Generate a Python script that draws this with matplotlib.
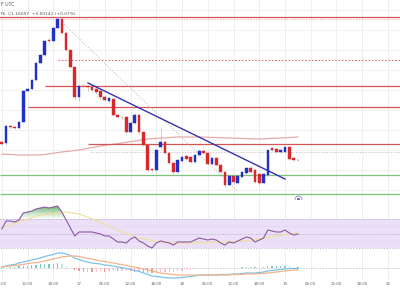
import numpy as np
import matplotlib
matplotlib.use("Agg")
import matplotlib.pyplot as plt
from matplotlib.path import Path
from matplotlib.colors import LinearSegmentedColormap

# hourly candles, hours counted from the 16th 00:00 UTC
hours = np.arange(6, 76)
opens = [1.16190, 1.16185, 1.16270, 1.16265, 1.16260, 1.16290, 1.16445, 1.16455, 1.16500, 1.16585,
         1.16625, 1.16700, 1.16695, 1.16760, 1.16805, 1.16735, 1.16650, 1.16565, 1.16415, 1.16470,
         1.16470, 1.16463, 1.16455, 1.16445, 1.16415, 1.16395, 1.16405, 1.16325, 1.16315, 1.16315,
         1.16240, 1.16285, 1.16325, 1.16240, 1.16175, 1.16055, 1.16050, 1.16165, 1.16190, 1.16135,
         1.16085, 1.16040, 1.16095, 1.16120, 1.16115, 1.16090, 1.16125, 1.16145, 1.16135, 1.16080,
         1.16110, 1.16075, 1.16040, 1.15975, 1.16020, 1.15985, 1.16015, 1.16035, 1.16060, 1.16050,
         1.16030, 1.15985, 1.16025, 1.16160, 1.16155, 1.16140, 1.16140, 1.16165, 1.16110, 1.16100]
highs = [1.16195, 1.16280, 1.16275, 1.16270, 1.16295, 1.16450, 1.16465, 1.16505, 1.16590, 1.16630,
         1.16700, 1.16710, 1.16770, 1.16815, 1.16810, 1.16745, 1.16655, 1.16570, 1.16480, 1.16480,
         1.16475, 1.16470, 1.16460, 1.16450, 1.16425, 1.16420, 1.16410, 1.16330, 1.16320, 1.16320,
         1.16295, 1.16335, 1.16330, 1.16245, 1.16180, 1.16060, 1.16160, 1.16265, 1.16195, 1.16140,
         1.16090, 1.16105, 1.16125, 1.16125, 1.16120, 1.16130, 1.16155, 1.16150, 1.16140, 1.16115,
         1.16115, 1.16080, 1.16045, 1.16025, 1.16025, 1.16025, 1.16045, 1.16065, 1.16070, 1.16055,
         1.16035, 1.16040, 1.16155, 1.16165, 1.16160, 1.16155, 1.16170, 1.16170, 1.16115, 1.16105]
lows = [1.16175, 1.16175, 1.16255, 1.16255, 1.16255, 1.16285, 1.16440, 1.16450, 1.16495, 1.16580,
        1.16620, 1.16685, 1.16690, 1.16755, 1.16730, 1.16645, 1.16560, 1.16400, 1.16395, 1.16460,
        1.16445, 1.16440, 1.16430, 1.16405, 1.16395, 1.16385, 1.16320, 1.16310, 1.16305, 1.16230,
        1.16235, 1.16280, 1.16230, 1.16170, 1.16040, 1.16040, 1.16040, 1.16155, 1.16130, 1.16080,
        1.16030, 1.16035, 1.16090, 1.16100, 1.16085, 1.16085, 1.16120, 1.16130, 1.16075, 1.16075,
        1.16070, 1.16035, 1.15965, 1.15970, 1.15980, 1.15980, 1.16010, 1.16030, 1.16035, 1.15985,
        1.15975, 1.15980, 1.16020, 1.16145, 1.16135, 1.16135, 1.16135, 1.16100, 1.16095, 1.16095]
closes = [1.16180, 1.16270, 1.16263, 1.16260, 1.16290, 1.16445, 1.16455, 1.16500, 1.16585, 1.16625,
          1.16695, 1.16695, 1.16760, 1.16805, 1.16735, 1.16650, 1.16565, 1.16415, 1.16470, 1.16468,
          1.16463, 1.16450, 1.16440, 1.16415, 1.16400, 1.16410, 1.16325, 1.16315, 1.16313, 1.16240,
          1.16285, 1.16325, 1.16240, 1.16175, 1.16050, 1.16048, 1.16150, 1.16190, 1.16135, 1.16085,
          1.16040, 1.16100, 1.16115, 1.16105, 1.16090, 1.16125, 1.16145, 1.16135, 1.16080, 1.16110,
          1.16075, 1.16040, 1.15975, 1.16020, 1.15990, 1.16020, 1.16040, 1.16060, 1.16040, 1.15990,
          1.15985, 1.16030, 1.16150, 1.16150, 1.16140, 1.16150, 1.16165, 1.16105, 1.16100, 1.16098]

# moving average (pale red curve)
ma_hours = [6, 10, 15, 20, 24, 29, 34, 40, 47, 52, 59, 66, 71, 75]
ma_values = [1.16130, 1.16125, 1.16125, 1.16140, 1.16150, 1.16170, 1.16185, 1.16205, 1.16215,
             1.16215, 1.16210, 1.16205, 1.16210, 1.16215]

# drawn levels: price, start hour
red_levels = [1.16815, 1.16470, 1.16365, 1.16180]
red_starts = [5.0, 16.1, 12.1, 26.1]
green_levels = [1.16025, 1.15930]
trend_hours = [26.1, 72.0]
trend_prices = [1.16485, 1.16005]
guide_hours = [20.0, 61.1]
guide_prices = [1.16790, 1.15940]

rsi = [56.2, 67.2, 67.2, 65.9, 68.6, 78.3, 79.6, 81.0, 83.8, 85.2,
       86.5, 85.2, 86.5, 87.9, 79.6, 68.6, 57.6, 46.6, 52.1, 52.1,
       52.1, 52.1, 50.7, 49.3, 46.6, 46.6, 42.4, 38.3, 38.3, 36.9,
       42.4, 45.2, 39.7, 36.9, 32.8, 30.0, 36.9, 39.7, 38.3, 36.9,
       34.1, 38.3, 38.3, 38.3, 38.3, 41.0, 43.8, 42.4, 41.0, 42.4,
       41.0, 36.9, 34.1, 38.3, 36.9, 39.7, 42.4, 45.2, 43.8, 38.3,
       41.0, 43.8, 54.8, 53.4, 52.1, 52.1, 54.8, 50.7, 47.9, 49.3]
rsi_ma_hours = [6, 10, 15, 21, 24, 29, 34, 38, 43, 47, 52, 57, 62, 66, 71, 75]
rsi_ma = [57.6, 65.9, 75.5, 79.6, 76.9, 65.9, 52.1, 43.8, 38.3, 36.9, 36.9, 38.3, 39.7, 42.4, 47.9, 50.7]

# MACD and signal, in units of 1e-5
macd = [2, 4, 6, 7, 10, 12, 14, 16, 18, 20, 23, 25, 27, 30, 30, 28, 25, 20, 17, 14,
        12, 10, 9, 8, 6, 5, 4, 2, 1, -1, -3, -5, -7, -10, -13, -16, -17, -18, -19, -20,
        -20, -20, -19, -18, -17, -16, -14, -14, -14, -14, -14, -13, -13, -13, -12, -12, -11, -10, -10, -10,
        -9, -8, -6, -5, -4, -3, -2, -1, -1, -1]
signal = [2, 3, 4, 5, 6, 7, 9, 10, 11, 12, 14, 16, 18, 20, 22, 23, 24, 24, 23, 21,
          19, 18, 16, 14, 13, 11, 10, 8, 7, 5, 3, 2, 0, -2, -4, -6, -8, -10, -11, -12,
          -13, -14, -14, -14, -14, -14, -14, -14, -14, -14, -14, -14, -14, -14, -13, -13, -13, -12, -12, -12,
          -11, -11, -10, -9, -8, -7, -6, -5, -4, -4]

tick_hours = [6, 12, 18, 24, 30, 36, 42, 48, 54, 60, 66, 72, 78, 84, 90, 96]
tick_labels = ["06:00", "12:00", "18:00", "17", "06:00", "12:00", "18:00", "18",
               "06:00", "12:00", "18:00", "19", "06:00", "12:00", "18:00", "20"]

UP, DOWN = "#2130c8", "#d8282b"
GRID = "#ececec"
XMIN, XMAX = 5.58, 98.8

fig = plt.figure(figsize=(4, 3), dpi=100)


def panel(top, bottom):
    a = fig.add_axes([0, 1 - bottom / 300, 1, (bottom - top) / 300])
    a.set_xlim(XMIN, XMAX)
    for s in a.spines.values():
        s.set_visible(False)
    a.tick_params(length=0, labelleft=False, labelbottom=False)
    for h in tick_hours:
        a.axvline(h, color=GRID, lw=0.6, zorder=0)
    return a


ax = panel(0, 200)
ax_rsi = panel(200, 252)
ax_macd = panel(252, 280)

# price panel
ax.set_ylim(1.1590, 1.1690)
for p in np.arange(1.1595, 1.1690, 0.0010):
    ax.axhline(p, color=GRID, lw=0.5, zorder=0)
ax.plot(ma_hours, ma_values, color="#e8a9a9", lw=0.9, zorder=1)
ax.hlines(red_levels, red_starts, XMAX, color="#d45555", lw=0.9, zorder=2)
ax.hlines(1.16805, XMIN, XMAX, color="#e9a0a0", lw=0.5, ls=(0, (2, 2)), zorder=2)
ax.hlines(1.16600, 19.1, XMAX, color="#d45555", lw=0.6, ls=(0, (2, 2)), zorder=2)
ax.hlines(1.16140, 26.6, XMAX, color="#c8b0b0", lw=0.5, ls=(0, (2, 2)), zorder=2)
ax.hlines(green_levels, XMIN, XMAX, color="#7cc47c", lw=0.9, zorder=2)
ax.plot(guide_hours, guide_prices, color="#b8b8b8", lw=0.5, ls=(0, (2, 2)), zorder=2)

o, h_, l_, c = map(np.array, (opens, highs, lows, closes))
col = [UP if cc >= oo else DOWN for oo, cc in zip(o, c)]
ax.vlines(hours, l_, h_, color="#bdbdbd", lw=0.5, zorder=3)
ax.bar(hours, c - o, bottom=o, width=0.62, color=col, edgecolor=col, lw=0.3, zorder=4)
ax.plot(trend_hours, trend_prices, color="#3434b0", lw=1.0, zorder=5)
ax.plot([75.05], [1.15905], marker="o", ms=5, mfc="none", mec="#8f86d6", mew=0.6, clip_on=False, zorder=6)
ax.plot([75.05], [1.15905], marker="o", ms=1.2, color="#6a5fc8", clip_on=False, zorder=6)

# RSI panel
ax_rsi.set_ylim(24.5, 96.2)
ax_rsi.axhspan(30, 70, color="#ece0f8", lw=0, zorder=0)
for lv in (40, 60):
    ax_rsi.axhline(lv, color="#e2d6ee", lw=0.5, zorder=1)
for lv in (30, 50, 70):
    ax_rsi.axhline(lv, color="#b6a6c8", lw=0.5, ls=(0, (2, 2)), zorder=1)
r = np.array(rsi)
fill = ax_rsi.fill_between(hours, r, 70, where=r > 70, interpolate=True, color="none", lw=0)
green = LinearSegmentedColormap.from_list("g", [(0.40, 0.72, 0.40, 0.0), (0.25, 0.60, 0.30, 0.9)])
img = ax_rsi.imshow(np.linspace(0, 1, 100).reshape(-1, 1), extent=[XMIN, 30, 70, 90],
                    origin="lower", cmap=green, aspect="auto", zorder=2)
img.set_clip_path(Path.make_compound_path(*fill.get_paths()), transform=ax_rsi.transData)
ax_rsi.set_xlim(XMIN, XMAX)
ax_rsi.set_ylim(24.5, 96.2)
ax_rsi.plot(rsi_ma_hours, rsi_ma, color="#f1df9a", lw=0.8, zorder=3)
ax_rsi.plot(hours, rsi, color="#8a5a9e", lw=0.8, zorder=4)

# MACD panel
m = np.array(macd) * 1e-5
s = np.array(signal) * 1e-5
hist = m - s
ax_macd.set_ylim(-0.00024, 0.00032)
ax_macd.axhline(0, color="#b5b5b5", lw=0.5, ls=(0, (2, 2)), zorder=1)
hcol = []
for i, v in enumerate(hist):
    prev = hist[i - 1] if i else 0
    if v >= 0:
        hcol.append("#7cc9bf" if v >= prev else "#c5e6e1")
    else:
        hcol.append("#f5c4c8" if v >= prev else "#ee9a9a")
ax_macd.bar(hours, hist, width=0.3, color=hcol, zorder=2)
ax_macd.plot(hours, m, color="#7cc3ea", lw=0.9, zorder=3)
ax_macd.plot(hours, s, color="#f2b48c", lw=0.9, zorder=3)
ax_macd.set_xticks(tick_hours)
ax_macd.set_xticklabels(tick_labels)
ax_macd.tick_params(axis="x", labelbottom=True, labelsize=2.8, labelcolor="#666666", pad=1.5)

fig.text(0.003, 1 - 5 / 300, "F UTC", fontsize=3.3, color="#555555", va="center")
fig.text(0.0, 1 - 14 / 300, "76  C1.16097  +0.00141 (+0.07%)", fontsize=3.2, color="#555555", va="center")

fig.savefig("out.png", dpi=100, facecolor="white")
